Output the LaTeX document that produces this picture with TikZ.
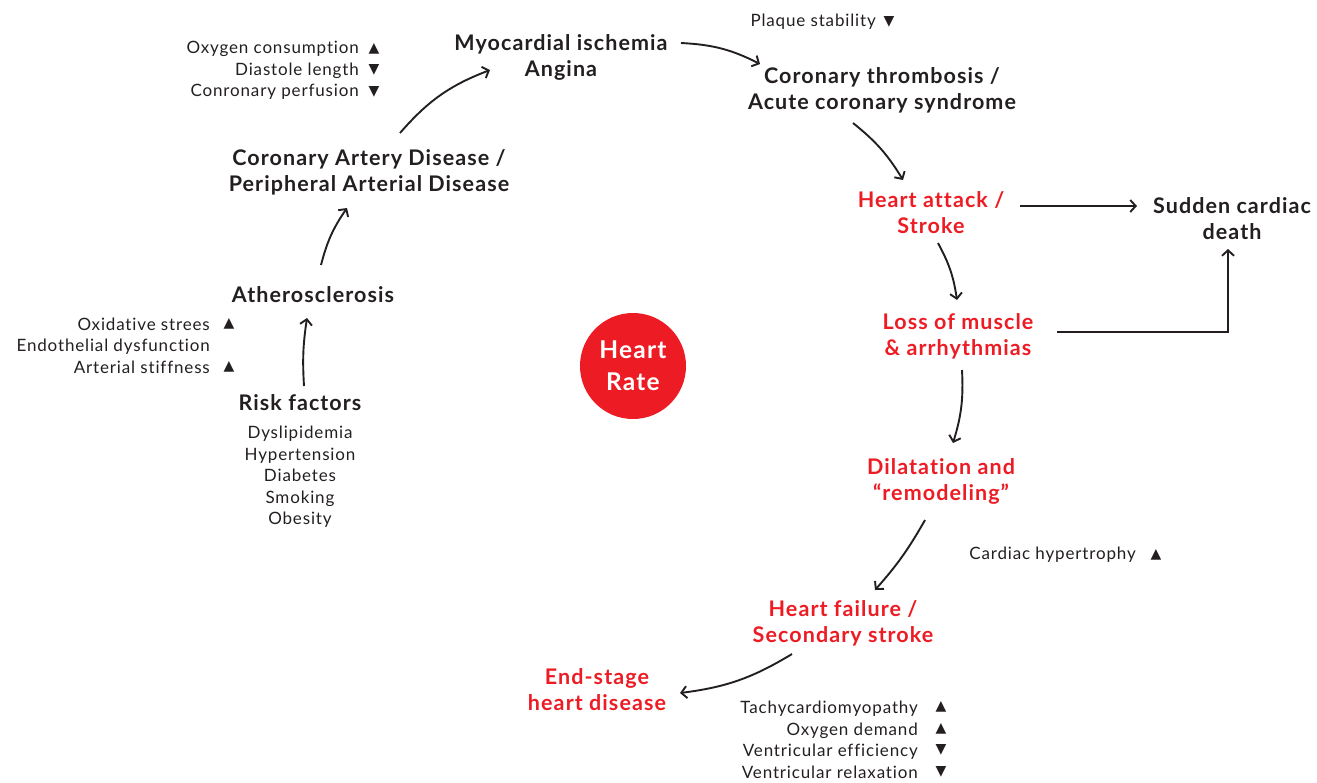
\documentclass[tikz,border=0pt]{standalone}
\usepackage{fontspec}
\setmainfont{Lato}[LetterSpace=5, Ligatures={TeX,NoCommon}]
\newfontfamily\symfont{DejaVu Sans}
\usetikzlibrary{arrows.meta}
\definecolor{ink}{HTML}{231F20}
\definecolor{alert}{HTML}{ED1C24}
\tikzset{
  head/.style={font=\bfseries\fontsize{21.5}{26}\selectfont, text=ink, align=center, inner sep=0pt, yshift=-1.5pt},
  redhead/.style={head, text=alert},
  note/.style={font=\fontsize{17}{21.5}\selectfont, text=ink, inner sep=0pt},
  tri/.style={font=\symfont\fontsize{14}{14}\selectfont, text=ink, inner sep=0pt},
  arr/.style={-{Straight Barb[length=5.5pt,width=12pt,line width=1.9pt]}, line width=1.9pt, draw=ink},
}
\begin{document}
\begin{tikzpicture}[x=1pt,y=1pt]
\useasboundingbox (0,0) rectangle (1317,-782);

% main chain
\node[head] (myo) at (561,-56) {Myocardial ischemia\\Angina};
\node[head] (cor) at (882,-89) {Coronary thrombosis /\\Acute coronary syndrome};
\node[redhead] (ha) at (931,-211) {Heart attack /\\Stroke};
\node[head] (scd) at (1232,-217) {Sudden cardiac\\death};
\node[redhead] (loss) at (958,-335) {Loss of muscle\\\& arrhythmias};
\node[redhead] (dil) at (941,-480) {Dilatation and\\“remodeling”};
\node[redhead] (hf) at (843,-622) {Heart failure /\\Secondary stroke};
\node[redhead] (esd) at (597,-688) {End-stage\\heart disease};
\node[head] (cad) at (369,-171) {Coronary Artery Disease /\\Peripheral Arterial Disease};
\node[head] (ath) at (313,-293) {Atherosclerosis};
\node[head] (rf) at (300,-401) {Risk factors};

% centre
\node[circle, fill=alert, minimum size=106pt, inner sep=0pt, text=white, align=center,
      font=\bfseries\fontsize{24.5}{32}\selectfont] (hr) at (633,-366) {Heart\\Rate};

% annotations
\node[note, align=center, anchor=north] (rfl) at (300,-426) {Dyslipidemia\\Hypertension\\Diabetes\\Smoking\\Obesity};

\node[note, align=right, anchor=east] (oxl) at (210,-345.5) {Oxidative strees\\Endothelial dysfunction\\Arterial stiffness};
\node[tri] (oxa) at (229,-324) {▲};
\node[tri] (oxc) at (229,-367) {▲};

\node[note, align=right, anchor=east] (o2l) at (359,-70.5) {Oxygen consumption\\Diastole length\\Conronary perfusion};
\node[tri] (o2a) at (374,-49) {▲};
\node[tri] (o2b) at (374,-70) {▼};
\node[tri] (o2c) at (374,-92) {▼};

\node[note, anchor=east] (pl) at (876,-22) {Plaque stability};
\node[tri] (pla) at (889,-22) {▼};

\node[note, anchor=east] (hy) at (1136,-555) {Cardiac hypertrophy};
\node[tri] (hya) at (1156,-555) {▲};

\node[note, align=right, anchor=east] (tl) at (918,-740) {Tachycardiomyopathy\\Oxygen demand\\Ventricular efficiency\\Ventricular relaxation};
\node[tri] (ta) at (941,-707) {▲};
\node[tri] (tb) at (941,-729) {▲};
\node[tri] (tc) at (941,-750) {▼};
\node[tri] (td) at (941,-772) {▼};

% connectors
\draw[arr] ([shift={(4,16.5)}]rf.center) to[bend left=6] ([shift={(-6,-23.5)}]ath.center);
\draw[arr] ([shift={(8,29.5)}]ath.center) to[bend left=10] ([shift={(-22,-35.5)}]cad.center);
\draw[arr] ([shift={(31,39.5)}]cad.center) to[bend left=14] ([shift={(-71,-12.5)}]myo.center);
\draw[arr] ([shift={(120,14.5)}]myo.center) to[bend left=12] ([shift={(-122,26.5)}]cor.center);
\draw[arr] ([shift={(-29,-32.5)}]cor.center) to[bend left=10] ([shift={(-28,32.5)}]ha.center);
\draw[arr] ([shift={(89,6.5)}]ha.center) -- ([shift={(-95,12.5)}]scd.center);
\draw[arr] ([shift={(7,-30.5)}]ha.center) to[bend left=10] ([shift={(-1,36.5)}]loss.center);
\draw[arr] ([shift={(99,4.5)}]loss.center) -| ([shift={(-4,-30.5)}]scd.center);
\draw[arr] ([shift={(4,-33.5)}]loss.center) to[bend left=10] ([shift={(12,38.5)}]dil.center);
\draw[arr] ([shift={(-16,-38.5)}]dil.center) to[bend left=6] ([shift={(32,33.5)}]hf.center);
\draw[arr] ([shift={(-51,-30.5)}]hf.center) to[bend left=12] ([shift={(83,-3.5)}]esd.center);
\end{tikzpicture}
\end{document}
